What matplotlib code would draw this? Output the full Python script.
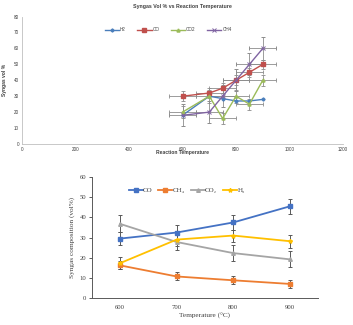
import matplotlib
matplotlib.use("Agg")
import matplotlib.pyplot as plt

# ---- upper panel: syngas vol % vs reaction temperature ----
top_temps = [600, 700, 750, 800, 850, 900]
top_h2 = [18, 30, 28.5, 27, 27, 28]
top_co = [30, 32, 35, 40, 45, 50]
top_co2 = [20, 30, 16, 30, 25, 40]
top_ch4 = [18, 20, 30, 40, 50, 60]
top_co_err = [3, 3, 3, 3, 3, 3]
top_co2_err = [4, 4, 3.5, 4, 3.5, 3.5]
top_ch4_err = [7, 7, 7, 7, 7, 7]
top_temp_err = [50, 50, 50, 50, 50, 50]
top_xticks = [0, 200, 400, 600, 800, 1000, 1200]
top_yticks = [0, 10, 20, 30, 40, 50, 60, 70, 80]

# ---- lower panel: syngas composition vs temperature ----
low_temps = [600, 700, 800, 900]
low_co = [29.5, 32.5, 37.5, 45.5]
low_ch4 = [16.2, 10.7, 8.8, 7.0]
low_co2 = [36.8, 27.8, 22.3, 19.2]
low_h2 = [17.3, 29.0, 31.0, 28.2]
low_co_err = [3.4, 3.5, 3.6, 3.6]
low_ch4_err = [2.0, 2.0, 2.0, 2.0]
low_co2_err = [4.2, 3.8, 4.0, 4.0]
low_h2_err = [3.0, 3.0, 3.0, 3.3]
low_yticks = [0, 10, 20, 30, 40, 50, 60]

fig = plt.figure(figsize=(3.53, 3.25), dpi=100)

# upper panel
ax1 = fig.add_axes([0.062, 0.557, 0.910, 0.392])
sans = ["Liberation Sans", "DejaVu Sans"]
ebkw = dict(ecolor="#8c8c8c", elinewidth=0.6, capsize=1.2, capthick=0.6)
c_h2 = ax1.errorbar(top_temps, top_h2, color="#4a7ebb", lw=1.0, marker="D",
                    ms=1.6, label="H2", zorder=3)
c_co = ax1.errorbar(top_temps, top_co, xerr=top_temp_err, yerr=top_co_err,
                    color="#c0504d", lw=1.0, marker="s", ms=2.2, label="CO", zorder=3, **ebkw)
c_co2 = ax1.errorbar(top_temps, top_co2, xerr=top_temp_err, yerr=top_co2_err,
                     color="#9bbb59", lw=1.0, marker="^", ms=2.2, label="CO2", zorder=3, **ebkw)
c_ch4 = ax1.errorbar(top_temps, top_ch4, xerr=top_temp_err, yerr=top_ch4_err,
                     color="#8064a2", lw=1.0, marker="x", ms=2.2, mew=0.7, label="CH4", zorder=3, **ebkw)
ax1.set_xlim(0, 1200)
ax1.set_ylim(0, 80)
ax1.set_xticks(top_xticks)
ax1.set_yticks(top_yticks)
ax1.tick_params(labelsize=3.3, length=0, pad=2, colors="#404040")
for lab in ax1.get_xticklabels() + ax1.get_yticklabels():
    lab.set_family(sans)
for s in ("top", "right"):
    ax1.spines[s].set_visible(False)
for s in ("left", "bottom"):
    ax1.spines[s].set_color("#bfbfbf")
    ax1.spines[s].set_linewidth(0.6)
ax1.set_title("Syngas Vol % vs Reaction Temperature", fontsize=3.8,
              fontweight="bold", family=sans, color="#404040", pad=6)
ax1.set_xlabel("Reaction Temperature", fontsize=3.6, fontweight="bold",
               family=sans, color="#404040", labelpad=-1)
ax1.set_ylabel("Syngas vol %", fontsize=3.6, fontweight="bold",
               family=sans, color="#404040", labelpad=5)
top_handles = [c[0] for c in (c_h2, c_co, c_co2, c_ch4)]
leg1 = ax1.legend(top_handles, ["H2", "CO", "CO2", "CH4"], loc="center",
                  bbox_to_anchor=(0.455, 0.895), ncol=4,
                  frameon=False, prop={"family": sans, "size": 3.3},
                  handlelength=3.2, columnspacing=2.4, handletextpad=0.2)
for t in leg1.get_texts():
    t.set_color("#404040")

# lower panel
ax2 = fig.add_axes([0.26, 0.083, 0.641, 0.372])
serif = ["Liberation Serif", "DejaVu Serif"]
ebkw2 = dict(ecolor="#595959", elinewidth=0.7, capsize=1.5, capthick=0.7)
d_co = ax2.errorbar(low_temps, low_co, yerr=low_co_err, color="#4472c4", lw=1.3,
                    marker="s", ms=2.6, zorder=3, **ebkw2)
d_ch4 = ax2.errorbar(low_temps, low_ch4, yerr=low_ch4_err, color="#ed7d31", lw=1.3,
                     marker="s", ms=2.6, zorder=3, **ebkw2)
d_co2 = ax2.errorbar(low_temps, low_co2, yerr=low_co2_err, color="#a5a5a5", lw=1.3,
                     marker="^", ms=2.6, zorder=3, **ebkw2)
d_h2 = ax2.errorbar(low_temps, low_h2, yerr=low_h2_err, color="#ffc000", lw=1.3,
                    marker="*", ms=3.0, zorder=3, **ebkw2)
ax2.set_xlim(550, 950)
ax2.set_ylim(0, 60)
ax2.set_xticks(low_temps)
ax2.set_yticks(low_yticks)
ax2.tick_params(axis="x", length=0, pad=5)
ax2.tick_params(axis="y", length=2, width=0.6, pad=2)
ax2.tick_params(labelsize=4.8, colors="#404040")
for lab in ax2.get_xticklabels() + ax2.get_yticklabels():
    lab.set_family(serif)
for s in ("top", "right"):
    ax2.spines[s].set_visible(False)
for s in ("left", "bottom"):
    ax2.spines[s].set_color("#595959")
    ax2.spines[s].set_linewidth(0.7)
ax2.set_xlabel("Temperature (°C)", fontsize=5.2, family=serif,
               color="#404040", labelpad=2)
ax2.set_ylabel("Syngas composition (vol%)", fontsize=5.2, family=serif,
               color="#404040", labelpad=3)
low_handles = [c[0] for c in (d_co, d_ch4, d_co2, d_h2)]
leg2 = ax2.legend(low_handles, ["CO", "CH₄", "CO₂", "H₂"], loc="center",
                  bbox_to_anchor=(0.42, 0.89), ncol=4,
                  frameon=False, prop={"family": serif, "size": 5},
                  handlelength=2.0, columnspacing=0.8, handletextpad=0.1)
for t in leg2.get_texts():
    t.set_color("#404040")

fig.savefig("out.png", dpi=100)
